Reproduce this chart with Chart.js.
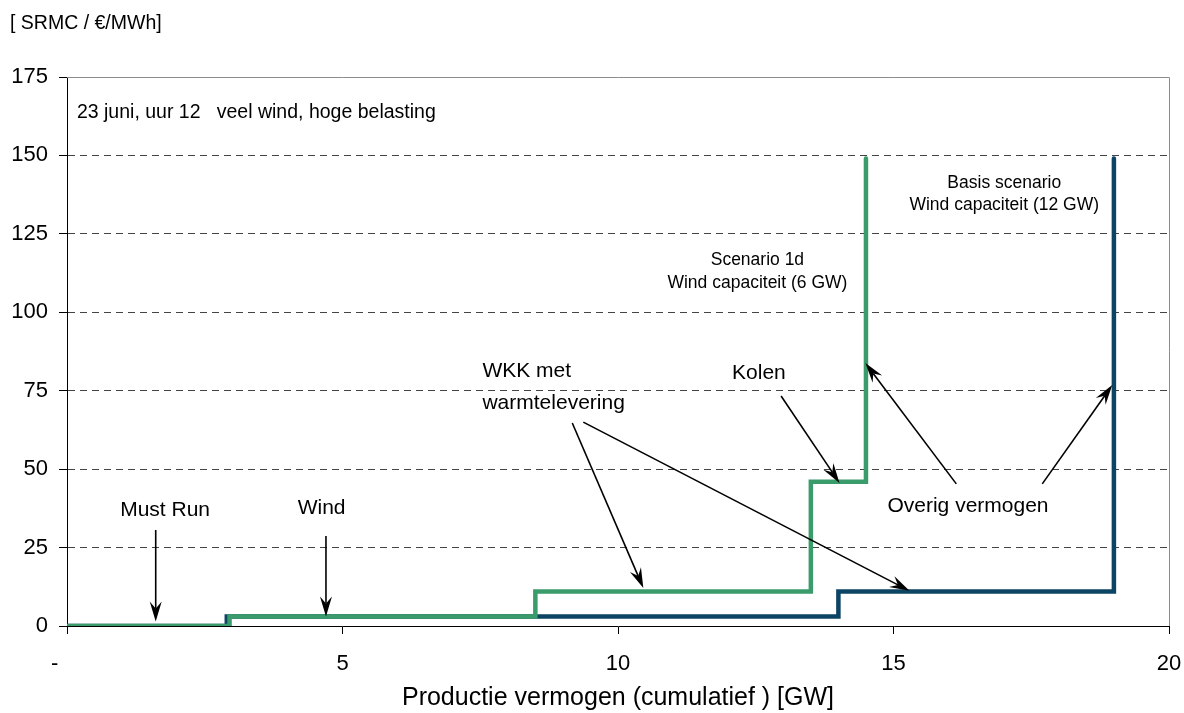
<!DOCTYPE html>
<html>
<head>
<meta charset="utf-8">
<title>SRMC merit order</title>
<script src="https://cdn.jsdelivr.net/npm/chart.js@4.4.1/dist/chart.umd.min.js"></script>
<style>
  html, body { margin: 0; padding: 0; background: #fff; }
  #wrap { width: 1184px; height: 713px; position: relative; }
</style>
</head>
<body>
<div id="wrap"><canvas id="meritChart"></canvas></div>
<script>
// capacity (GW) where each price step starts, and the price (EUR/MWh) after it
const scenarioEdges = [0, 2.95, 8.5, 13.5, 14.5];
const scenarioPrices = [0, 3, 11, 46, 149];
const basisEdges = [0, 2.9, 14, 19];
const basisPrices = [0, 3, 11, 149];

const xTicks = [0, 5, 10, 15, 20];
const yTicks = [0, 25, 50, 75, 100, 125, 150, 175];

const FONT = "'Liberation Sans', Arial, sans-serif";

// text notes in data coordinates
const notes = [
    { text: '23 juni, uur 12   veel wind, hoge belasting', x: 0.18, y: 163.5, size: 19.5, align: 'left' },
    { text: 'Scenario 1d', x: 12.53, y: 116.7, size: 17.5, align: 'center' },
    { text: 'Wind capaciteit (6 GW)', x: 12.53, y: 109.3, size: 17.5, align: 'center' },
    { text: 'Basis scenario', x: 17.01, y: 141.2, size: 17.5, align: 'center' },
    { text: 'Wind capaciteit (12 GW)', x: 17.01, y: 134.2, size: 17.5, align: 'center' },
    { text: 'WKK met', x: 7.54, y: 81.1, size: 21, align: 'left' },
    { text: 'warmtelevering', x: 7.54, y: 71.0, size: 21, align: 'left' },
    { text: 'Kolen', x: 12.07, y: 80.6, size: 21, align: 'left' },
    { text: 'Overig vermogen', x: 14.89, y: 38.3, size: 21, align: 'left' },
    { text: 'Must Run', x: 1.78, y: 37.0, size: 21, align: 'center' },
    { text: 'Wind', x: 4.62, y: 37.7, size: 21, align: 'center' }
];

// arrows: from (x1,y1) to tip (x2,y2), data coordinates
const arrows = [
    [1.61, 30.6, 1.61, 1.4],
    [4.70, 28.7, 4.70, 3.0],
    [9.17, 64.7, 10.46, 12.1],
    [9.37, 65.0, 15.29, 11.2],
    [12.96, 73.3, 14.02, 45.6],
    [16.14, 45.3, 14.49, 83.8],
    [17.70, 45.3, 18.97, 76.8]
];

function toPoints(edges, prices) {
    return edges.map((x, i) => ({ x: x, y: prices[i] }));
}

const annotations = {
    id: 'annotations',
    afterDraw(chart) {
        const ctx = chart.ctx;
        const xs = chart.scales.x;
        const ys = chart.scales.y;
        const area = chart.chartArea;

        // plot frame (top and right)
        ctx.save();
        ctx.strokeStyle = '#8c8c8c';
        ctx.lineWidth = 1;
        ctx.beginPath();
        ctx.moveTo(area.left, area.top + 0.5);
        ctx.lineTo(area.right + 0.5, area.top + 0.5);
        ctx.lineTo(area.right + 0.5, area.bottom);
        ctx.stroke();
        ctx.restore();

        // unit label above y axis
        ctx.save();
        ctx.fillStyle = '#000';
        ctx.font = '19.5px ' + FONT;
        ctx.textAlign = 'left';
        ctx.textBaseline = 'middle';
        ctx.fillText('[ SRMC / €/MWh]', 10, 24);
        ctx.restore();

        // notes
        notes.forEach(n => {
            ctx.save();
            ctx.fillStyle = '#000';
            ctx.font = n.size + 'px ' + FONT;
            ctx.textAlign = n.align;
            ctx.textBaseline = 'middle';
            ctx.fillText(n.text, xs.getPixelForValue(n.x), ys.getPixelForValue(n.y));
            ctx.restore();
        });

        // arrows
        arrows.forEach(a => {
            const x1 = xs.getPixelForValue(a[0]), y1 = ys.getPixelForValue(a[1]);
            const x2 = xs.getPixelForValue(a[2]), y2 = ys.getPixelForValue(a[3]);
            const ang = Math.atan2(y2 - y1, x2 - x1);
            const len = 20, half = 6, notch = 13;
            ctx.save();
            ctx.strokeStyle = '#000';
            ctx.fillStyle = '#000';
            ctx.lineWidth = 1.6;
            ctx.beginPath();
            ctx.moveTo(x1, y1);
            ctx.lineTo(x2 - Math.cos(ang) * notch, y2 - Math.sin(ang) * notch);
            ctx.stroke();
            ctx.translate(x2, y2);
            ctx.rotate(ang);
            ctx.beginPath();
            ctx.moveTo(0, 0);
            ctx.lineTo(-len, -half);
            ctx.lineTo(-notch, 0);
            ctx.lineTo(-len, half);
            ctx.closePath();
            ctx.fill();
            ctx.restore();
        });
    }
};

new Chart(document.getElementById('meritChart'), {
    type: 'line',
    data: {
        datasets: [{
            label: 'Scenario 1d',
            data: toPoints(scenarioEdges, scenarioPrices),
            borderColor: '#3a9b6b',
            borderWidth: 4.5,
            stepped: 'before',
            pointRadius: 0,
            borderCapStyle: 'round',
            fill: false
        }, {
            label: 'Basis scenario',
            data: toPoints(basisEdges, basisPrices),
            borderColor: '#0c4464',
            borderWidth: 4.5,
            stepped: 'before',
            pointRadius: 0,
            borderCapStyle: 'round',
            fill: false
        }]
    },
    options: {
        responsive: true,
        maintainAspectRatio: false,
        animation: false,
        layout: {
            padding: { top: 77, right: 15, left: 0, bottom: 0 }
        },
        plugins: {
            legend: { display: false },
            tooltip: { enabled: false }
        },
        scales: {
            x: {
                type: 'linear',
                min: 0,
                max: 20,
                afterFit: scale => {
                    scale.height = 87;
                    scale.paddingLeft = 0;
                    scale.paddingRight = 0;
                },
                afterBuildTicks: scale => { scale.ticks = xTicks.map(v => ({ value: v })); },
                grid: {
                    drawOnChartArea: false,
                    drawTicks: true,
                    tickLength: 8,
                    tickColor: '#000'
                },
                border: { color: '#000', width: 1 },
                ticks: {
                    color: '#000',
                    font: { family: FONT, size: 22 },
                    padding: 17,
                    maxRotation: 0,
                    callback: v => v === 0 ? '-    ' : String(v)
                },
                title: {
                    display: true,
                    text: 'Productie vermogen (cumulatief ) [GW]',
                    color: '#000',
                    font: { family: FONT, size: 25 },
                    padding: 0
                }
            },
            y: {
                min: 0,
                max: 175,
                afterFit: scale => {
                    scale.width = 67;
                    scale.paddingTop = 0;
                    scale.paddingBottom = 0;
                },
                afterBuildTicks: scale => { scale.ticks = yTicks.map(v => ({ value: v })); },
                grid: {
                    color: ctx => (ctx.tick && ctx.tick.value === 175) ? 'rgba(0,0,0,0)' : '#444',
                    lineWidth: 1,
                    drawTicks: true,
                    tickLength: 8,
                    tickColor: '#000'
                },
                border: { color: '#000', width: 1, dash: [7, 5] },
                ticks: {
                    color: '#000',
                    font: { family: FONT, size: 22 },
                    padding: 11
                }
            }
        }
    },
    plugins: [annotations]
});
</script>
</body>
</html>
